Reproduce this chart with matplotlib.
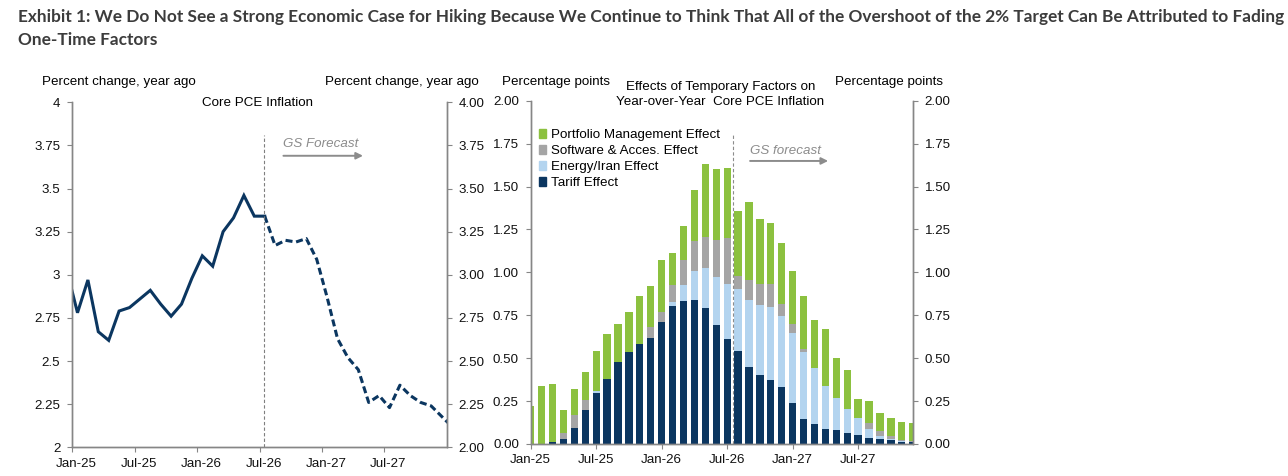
import numpy as np
import matplotlib
matplotlib.use('Agg')
import matplotlib.pyplot as plt
import matplotlib.transforms as mtrans
from matplotlib.patches import Patch

plt.rcParams['font.family'] = ['Liberation Sans', 'DejaVu Sans']

# ---- data ----
# left panel: core PCE, monthly, Dec-24 .. Jan-28 (edge points get clipped)
core_actual = [3.02, 2.78, 2.97, 2.67, 2.62, 2.79, 2.81, 2.86, 2.91, 2.83, 2.76,
               2.83, 2.98, 3.11, 3.05, 3.25, 3.33, 3.46, 3.34, 3.34]
core_forecast = [3.34, 3.17, 3.20, 3.19, 3.21, 3.09, 2.87, 2.63, 2.52, 2.45, 2.26,
                 2.30, 2.23, 2.36, 2.30, 2.26, 2.24, 2.18, 2.12]

# right panel: stacked effects, Jan-25 .. Dec-27
tariff = [0, 0, 0.01, 0.03, 0.095, 0.20, 0.30, 0.38, 0.48, 0.535, 0.58, 0.62,
          0.71, 0.805, 0.835, 0.84, 0.79, 0.695, 0.61, 0.54, 0.45, 0.40, 0.37, 0.33,
          0.24, 0.145, 0.115, 0.09, 0.08, 0.065, 0.05, 0.035, 0.03, 0.025, 0.012, 0.012]
energy = [0, 0, 0, 0, 0, 0, 0.01, 0, 0, 0, 0, 0,
          0, 0.02, 0.09, 0.17, 0.235, 0.28, 0.32, 0.365, 0.39, 0.41, 0.43, 0.415,
          0.405, 0.39, 0.33, 0.25, 0.19, 0.14, 0.10, 0.055, 0.017, 0.006, 0.005, 0]
software = [0, 0, 0, 0.035, 0.075, 0.055, 0, 0, 0, 0, 0, 0.06,
            0.06, 0.10, 0.145, 0.17, 0.18, 0.215, 0.27, 0.075, 0.115, 0.12, 0.13, 0.07,
            0.055, 0.02, 0, 0, 0, 0, 0, 0.035, 0.031, 0.018, 0.008, 0.008]
portfolio = [0.22, 0.34, 0.34, 0.135, 0.15, 0.165, 0.23, 0.26, 0.22, 0.235, 0.28, 0.24,
             0.30, 0.185, 0.20, 0.30, 0.425, 0.41, 0.41, 0.38, 0.455, 0.38, 0.36, 0.355,
             0.31, 0.305, 0.275, 0.33, 0.23, 0.225, 0.11, 0.125, 0.10, 0.10, 0.105, 0.10]

tick_labels = ['Jan-25', 'Jul-25', 'Jan-26', 'Jul-26', 'Jan-27', 'Jul-27']
left_ticks = [4, 3.75, 3.5, 3.25, 3, 2.75, 2.5, 2.25, 2]
left_tick_labels = ['4', '3.75', '3.5', '3.25', '3', '2.75', '2.5', '2.25', '2']

NAVY = '#0b3660'
LBLUE = '#b3d4ef'
GREY = '#a5a5a5'
GREEN = '#8cc13f'
SPINE = '#868686'
FS = 9.6

W, H = 1288, 476
fig = plt.figure(figsize=(W / 100, H / 100), dpi=100)


def px_axes(x0, y0, x1, y1):
    return fig.add_axes([x0 / W, 1 - y1 / H, (x1 - x0) / W, (y1 - y0) / H])


def style(ax):
    ax.spines['top'].set_visible(False)
    for s in ['left', 'right', 'bottom']:
        ax.spines[s].set_color(SPINE)
        ax.spines[s].set_linewidth(1.0)
    ax.tick_params(axis='both', direction='out', length=3.5, width=0.8,
                   color=SPINE, labelsize=FS, labelcolor='#111111')
    ax.tick_params(axis='x', pad=4)
    ax.tick_params(axis='y', pad=5)


def shift_xlabels(ax):
    off = mtrans.ScaledTranslation(4 / 100, 0, fig.dpi_scale_trans)
    for lab in ax.get_xticklabels():
        lab.set_transform(lab.get_transform() + off)


# ---- left panel ----
ax1 = px_axes(72.3, 102.3, 446.7, 447.3)
style(ax1)
x_act = np.arange(len(core_actual)) - 0.5
x_fc = np.arange(len(core_forecast)) + len(core_actual) - 2 + 0.5
ax1.plot(x_act, core_actual, color=NAVY, lw=2.2, solid_joinstyle='miter')
ax1.plot(x_fc, core_forecast, color=NAVY, lw=2.2, linestyle=(0, (2.3, 1.2)))
ax1.set_xlim(0, 36)
ax1.set_ylim(2, 4)
ax1.set_yticks(left_ticks)
ax1.set_yticklabels(left_tick_labels)
ax1.set_xticks(np.arange(0, 36, 6))
ax1.set_xticklabels(tick_labels)
shift_xlabels(ax1)
ax1r = ax1.twinx()
style(ax1r)
ax1r.set_ylim(2, 4)
ax1r.set_yticks(left_ticks)
ax1r.set_yticklabels(['%.2f' % v for v in left_ticks])
ax1.axvline(18.4, ymin=0, ymax=(3.81 - 2) / 2, color='#7f7f7f', lw=0.8,
            linestyle=(0, (3, 2)))
ax1.annotate('', xy=(27.95, 3.69), xytext=(20.3, 3.69),
             arrowprops=dict(arrowstyle='-|>', color='#8c8c8c', lw=1.4,
                             mutation_scale=10, shrinkA=0, shrinkB=0))
ax1.text(20.3, 3.76, 'GS Forecast', style='italic', color='#8c8c8c',
         fontsize=FS, va='center', ha='left')

# ---- right panel ----
ax2 = px_axes(530.7, 100.7, 912.7, 444.0)
style(ax2)
xb = np.arange(len(tariff))
bw = 0.67
b1 = np.array(tariff)
b2 = b1 + np.array(energy)
b3 = b2 + np.array(software)
ax2.bar(xb, tariff, bw, color=NAVY)
ax2.bar(xb, energy, bw, bottom=b1, color=LBLUE)
ax2.bar(xb, software, bw, bottom=b2, color=GREY)
ax2.bar(xb, portfolio, bw, bottom=b3, color=GREEN)
ax2.set_xlim(0, 35)
ax2.set_ylim(0, 2)
rticks = np.arange(0, 2.01, 0.25)
ax2.set_yticks(rticks)
ax2.set_yticklabels(['%.2f' % v for v in rticks])
ax2.set_xticks(np.arange(0, 36, 6))
ax2.set_xticklabels(tick_labels)
ax2r = ax2.twinx()
style(ax2r)
ax2r.set_ylim(0, 2)
ax2r.set_yticks(rticks)
ax2r.set_yticklabels(['%.2f' % v for v in rticks])
ax2.axvline(18.5, ymin=0, ymax=1.80 / 2, color='#8c8c8c', lw=0.8,
            linestyle=(0, (3, 2)))
ax2.annotate('', xy=(27.25, 1.649), xytext=(20.1, 1.649),
             arrowprops=dict(arrowstyle='-|>', color='#8c8c8c', lw=1.4,
                             mutation_scale=10, shrinkA=0, shrinkB=0))
ax2.text(20.1, 1.707, 'GS forecast', style='italic', color='#8c8c8c',
         fontsize=FS, va='center', ha='left')
handles = [Patch(color=GREEN), Patch(color=GREY), Patch(color=LBLUE), Patch(color=NAVY)]
labels = ['Portfolio Management Effect', 'Software & Acces. Effect',
          'Energy/Iran Effect', 'Tariff Effect']
ax2.legend(handles, labels, loc='upper left', bbox_to_anchor=(0.022, 0.918),
           frameon=False, fontsize=FS, handlelength=0.55, handleheight=0.65,
           handletextpad=0.35, labelspacing=0.3, borderpad=0, borderaxespad=0)

# ---- texts ----
def ftext(x, y, s, **kw):
    fig.text(x / W, 1 - y / H, s, fontsize=FS, va='center', **kw)


ftext(42, 82, 'Percent change, year ago', ha='left')
ftext(325, 82, 'Percent change, year ago', ha='left')
ftext(258, 103, 'Core PCE Inflation', ha='center')
ftext(502, 82, 'Percentage points', ha='left')
ftext(835, 82, 'Percentage points', ha='left')
ftext(721, 87, 'Effects of Temporary Factors on', ha='center')
ftext(720, 102, 'Year-over-Year  Core PCE Inflation', ha='center')

fig.text(18 / W, 1 - 17 / H,
         'Exhibit 1: We Do Not See a Strong Economic Case for Hiking Because We Continue '
         'to Think That All of the Overshoot of the 2% Target Can Be Attributed to Fading',
         fontsize=12.4, fontweight='bold', family='Lato', color='#3c3c3c', va='center')
fig.text(18 / W, 1 - 40 / H, 'One-Time Factors',
         fontsize=12.4, fontweight='bold', family='Lato', color='#3c3c3c', va='center')

fig.savefig('out.png', dpi=100)
